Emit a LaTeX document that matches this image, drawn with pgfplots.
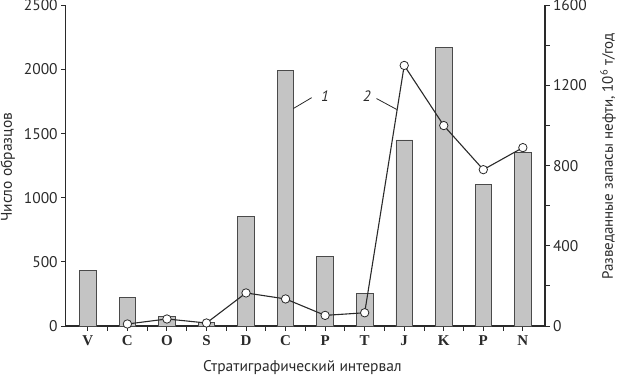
\documentclass[border=0pt]{standalone}
\usepackage{fontspec}
\setmainfont{PT Sans}
\newfontfamily\serifb{Liberation Serif}
\usepackage{pgfplots}
\pgfplotsset{compat=1.18}
\definecolor{barfill}{HTML}{C4C4C4}
\definecolor{ink}{HTML}{2A2A2A}
\begin{document}
\begin{tikzpicture}
\path[use as bounding box] (-65.7pt,-54pt) rectangle (562.3pt,326pt);
\begin{axis}[
  at={(0pt,0pt)}, anchor=south west,
  scale only axis, width=479.3pt, height=320.7pt,
  xmin=-0.56, xmax=11.56, ymin=0, ymax=2500,
  axis x line*=bottom, axis y line*=left,
  axis line style={-, line width=1.1pt, ink},
  tick style={line width=0.9pt, ink},
  tick align=outside, major tick length=4.5pt, minor tick length=4.5pt,
  xtick={0,...,11},
  xticklabels={V,C,O,S,D,C,P,T,J,K,P,N},
  minor xtick={0.5,1.5,...,10.5},
  xticklabel style={font=\serifb\bfseries\fontsize{15}{15}\selectfont, text=ink, yshift=-2pt},
  ytick={0,500,...,2500},
  yticklabel style={font=\fontsize{15.5}{15.5}\selectfont, text=ink},
  /pgf/number format/assume math mode=true,
  /pgf/number format/1000 sep={},
  xlabel={Стратиграфический интервал},
  xlabel style={at={(axis description cs:0.494,-0.128)}, anchor=center, font=\fontsize{15.5}{15.5}\selectfont, text=ink},
  ylabel={Число образцов},
  ylabel style={at={(axis description cs:-0.121,0.495)}, anchor=center, rotate=0, font=\fontsize{15.5}{15.5}\selectfont, text=ink},
  clip=false,
]
\addplot[ybar, bar width=0.42, fill=barfill, draw=ink!85, line width=0.8pt]
  coordinates {(0,435) (1,222) (2,72) (3,25) (4,855) (5,1990) (6,545) (7,255) (8,1450) (9,2170) (10,1105) (11,1350)};
\draw[ink, line width=0.8pt] (axis cs:5.66,1780) -- (axis cs:5.195,1695);
\node[font=\itshape\fontsize{15}{15}\selectfont, text=ink] at (axis cs:6.0,1790) {1};
\draw[ink, line width=0.8pt] (axis cs:7.30,1773) -- (axis cs:7.81,1688);
\node[font=\itshape\fontsize{15}{15}\selectfont, text=ink] at (axis cs:7.05,1790) {2};
\end{axis}
\begin{axis}[
  at={(0pt,0pt)}, anchor=south west,
  scale only axis, width=479.3pt, height=320.7pt,
  xmin=-0.56, xmax=11.56, ymin=0, ymax=1600,
  axis x line=none, axis y line*=right,
  axis line style={-, line width=1.1pt, ink},
  tick style={line width=0.9pt, ink},
  tick align=outside, major tick length=4.5pt, minor tick length=4.5pt,
  ytick={0,400,...,1600},
  minor ytick={200,600,1000,1400},
  yticklabel style={font=\fontsize{15.5}{15.5}\selectfont, text=ink},
  /pgf/number format/assume math mode=true,
  /pgf/number format/1000 sep={},
  ylabel={Разведанные запасы нефти, 10\textsuperscript{6} т/год},
  ylabel style={at={(axis description cs:1.1315,0.529)}, anchor=center, rotate=0, font=\fontsize{15}{15}\selectfont, text=ink},
  clip=false,
]
\addplot[ink, line width=1.1pt, mark=*, mark size=4.2pt, mark options={fill=white, draw=ink, line width=0.8pt}]
  coordinates {(1,10) (2,35) (3,15) (4,165) (5,135) (6,53) (7,66) (8,1300) (9,1000) (10,780) (11,890)};
\end{axis}
\end{tikzpicture}
\end{document}
